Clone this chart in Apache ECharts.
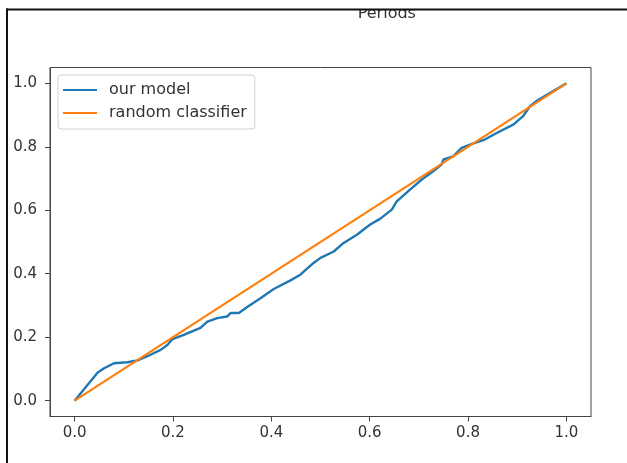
<!DOCTYPE html>
<html>
<head>
<meta charset="utf-8">
<script src="https://cdn.jsdelivr.net/npm/echarts@6/dist/echarts.min.js"></script>
<style>
html,body{margin:0;padding:0;background:#fff;}
#chart{width:627px;height:463px;}
</style>
</head>
<body>
<div id="chart"></div>
<script>
var titleText = 'Periods';
var seriesNames = ['our model', 'random classifier'];
var tickValues = [0, 0.2, 0.4, 0.6, 0.8, 1.0];

var modelX = [0, 0.047, 0.060, 0.080, 0.107, 0.128, 0.148, 0.175, 0.189, 0.199, 0.222, 0.256, 0.270, 0.290, 0.310, 0.317, 0.334, 0.351, 0.378, 0.405, 0.439, 0.459, 0.486, 0.500, 0.527, 0.547, 0.574, 0.601, 0.621, 0.645, 0.655, 0.682, 0.706, 0.729, 0.746, 0.750, 0.770, 0.787, 0.811, 0.834, 0.865, 0.892, 0.912, 0.926, 0.939, 1.0];
var modelY = [0, 0.089, 0.102, 0.118, 0.121, 0.127, 0.140, 0.160, 0.176, 0.194, 0.207, 0.229, 0.249, 0.260, 0.265, 0.276, 0.276, 0.295, 0.323, 0.352, 0.379, 0.397, 0.434, 0.450, 0.470, 0.497, 0.523, 0.555, 0.573, 0.602, 0.628, 0.665, 0.697, 0.723, 0.744, 0.760, 0.770, 0.797, 0.811, 0.823, 0.849, 0.870, 0.897, 0.928, 0.944, 1.0];

var randomX = [0, 1];
var randomY = [0, 1];

function zip(a, b) { return a.map(function (v, i) { return [v, b[i]]; }); }
function fmt(v) { return v.toFixed(1); }

var chart = echarts.init(document.getElementById('chart'), null, {renderer: 'canvas'});
var FONT = 'DejaVu Sans';
function makeAxis(margin) {
  return {
    type: 'value',
    min: -0.05,
    max: 1.05,
    splitLine: {show: false},
    axisLine: {show: true, onZero: false, lineStyle: {color: '#444', width: 1}},
    axisTick: {show: true, customValues: tickValues, length: 5, lineStyle: {color: '#444', width: 1}},
    axisLabel: {customValues: tickValues, formatter: fmt, color: '#333', fontSize: 15, fontFamily: FONT, margin: margin}
  };
}

chart.setOption({
  animation: false,
  backgroundColor: '#fff',
  grid: {left: 50, top: 67.5, right: 36, bottom: 46.5, show: true, borderColor: '#444', borderWidth: 1, backgroundColor: 'transparent', containLabel: false},
  xAxis: makeAxis(9),
  yAxis: makeAxis(13),
  legend: {
    data: seriesNames,
    orient: 'vertical',
    left: 58,
    top: 75,
    padding: [7, 8, 8, 5],
    itemGap: 7,
    itemWidth: 34,
    itemHeight: 2,
    icon: 'rect',
    backgroundColor: '#fff',
    borderColor: '#d0d0d0',
    borderWidth: 1,
    borderRadius: 3,
    textStyle: {fontSize: 16, fontFamily: FONT, color: '#333', lineHeight: 16, padding: [0, 0, 0, 7]}
  },
  series: [
    {name: seriesNames[0], type: 'line', data: zip(modelX, modelY), showSymbol: false, symbol: 'none', color: '#1f77b4', lineStyle: {width: 2.4, color: '#1f77b4'}, z: 2},
    {name: seriesNames[1], type: 'line', data: zip(randomX, randomY), showSymbol: false, symbol: 'none', color: '#ff7f0e', lineStyle: {width: 2.2, color: '#ff7f0e'}, z: 3}
  ],
  graphic: [
    {type: 'text', z: 10, left: 386.7 - 29, top: 5.5, style: {text: titleText, font: '16px DejaVu Sans', fill: '#333'}},
    {type: 'rect', z: 20, shape: {x: 0, y: 0, width: 627, height: 9}, style: {fill: '#fff'}},
    {type: 'line', z: 21, shape: {x1: 6, y1: 9.5, x2: 627, y2: 9.5}, style: {stroke: '#111', lineWidth: 2}},
    {type: 'line', z: 21, shape: {x1: 7, y1: 8.5, x2: 7, y2: 463}, style: {stroke: '#111', lineWidth: 2}}
  ]
});
</script>
</body>
</html>
